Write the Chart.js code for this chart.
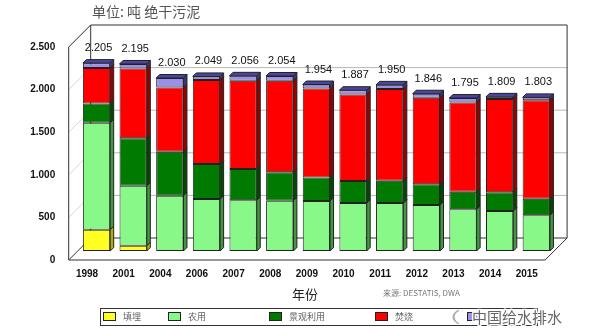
<!DOCTYPE html>
<html>
<head>
<meta charset="utf-8">
<script src="https://cdn.jsdelivr.net/npm/chart.js@4.4.1/dist/chart.umd.min.js"></script>
<style>
  html, body { margin: 0; padding: 0; background: #fff; }
</style>
</head>
<body>
<canvas id="sludge" width="601" height="336"></canvas>
<script>
const years = ["1998", "2001", "2004", "2006", "2007", "2008", "2009", "2010", "2011", "2012", "2013", "2014", "2015"];
const landfill = [250, 62, 0, 0, 0, 0, 0, 0, 0, 0, 0, 0, 0];
const agriculture = [1255, 704, 649, 610, 595, 590, 587, 563, 563, 540, 489, 469, 419];
const landscaping = [227, 556, 516, 410, 367, 333, 277, 258, 261, 242, 207, 220, 195];
const incineration = [415, 821, 754, 986, 1036, 1075, 1044, 1017, 1076, 1016, 1048, 1094, 1154];
const other = [58, 52, 111, 43, 58, 56, 46, 49, 50, 48, 51, 26, 35];
const yTicks = [0, 500, 1000, 1500, 2000, 2500];

const CJK = "'Noto Sans CJK SC', sans-serif";
Chart.defaults.font.family = "'Liberation Sans', Arial, sans-serif";

// offsets of the back wall and the front edge relative to the bar plane
const BACK = { dx: 12.5, dy: -13 };
const FRONT = { dx: -9.5, dy: 9 };
const DEPTH = 3.5;

const fmt = (v) => v.toLocaleString("de-DE");

const box3d = {
  id: "box3d",
  beforeDatasetsDraw(chart) {
    const { ctx, chartArea: a, scales: { y } } = chart;
    const y0 = y.getPixelForValue(0);
    const yTop = y.getPixelForValue(2500);
    ctx.save();
    ctx.lineWidth = 1;
    // grid on the back wall and the left wall
    yTicks.forEach((v) => {
      const py = y.getPixelForValue(v);
      if (v > 0 && v < 2500) {
        ctx.strokeStyle = "#b8b8b8";
        ctx.beginPath();
        ctx.moveTo(a.left + BACK.dx, py + BACK.dy);
        ctx.lineTo(a.right + BACK.dx, py + BACK.dy);
        ctx.stroke();
      }
      if (v > 0) {
        ctx.strokeStyle = "#d8d8d8";
        ctx.beginPath();
        ctx.moveTo(a.left + FRONT.dx, py + FRONT.dy);
        ctx.lineTo(a.left + BACK.dx, py + BACK.dy);
        ctx.stroke();
      }
    });
    ctx.strokeStyle = "#333";
    // back wall outline
    ctx.beginPath();
    ctx.moveTo(a.left + BACK.dx, y0 + BACK.dy);
    ctx.lineTo(a.left + BACK.dx, yTop + BACK.dy);
    ctx.lineTo(a.right + BACK.dx, yTop + BACK.dy);
    ctx.lineTo(a.right + BACK.dx, y0 + BACK.dy);
    ctx.stroke();
    // floor
    ctx.beginPath();
    ctx.moveTo(a.left + FRONT.dx, y0 + FRONT.dy);
    ctx.lineTo(a.right + FRONT.dx, y0 + FRONT.dy);
    ctx.lineTo(a.right + BACK.dx, y0 + BACK.dy);
    ctx.lineTo(a.left + BACK.dx, y0 + BACK.dy);
    ctx.closePath();
    ctx.stroke();
    // left wall
    ctx.beginPath();
    ctx.moveTo(a.left + FRONT.dx, y0 + FRONT.dy);
    ctx.lineTo(a.left + FRONT.dx, yTop + FRONT.dy);
    ctx.lineTo(a.left + BACK.dx, yTop + BACK.dy);
    ctx.stroke();
    ctx.restore();
  },
  afterDatasetsDraw(chart) {
    const { ctx } = chart;
    const sets = chart.data.datasets;
    ctx.save();
    ctx.lineWidth = 1;
    ctx.strokeStyle = "#222";
    sets.forEach((ds, i) => {
      chart.getDatasetMeta(i).data.forEach((bar, j) => {
        if (!ds.data[j]) return;
        const r = bar.x + bar.width / 2;
        const l = bar.x - bar.width / 2;
        ctx.fillStyle = ds.sideColor;
        ctx.beginPath();
        ctx.moveTo(r, bar.y);
        ctx.lineTo(r + DEPTH, bar.y - DEPTH);
        ctx.lineTo(r + DEPTH, bar.base - DEPTH);
        ctx.lineTo(r, bar.base);
        ctx.closePath();
        ctx.fill();
        ctx.stroke();
        if (i === sets.length - 1) {
          ctx.fillStyle = ds.topColor;
          ctx.beginPath();
          ctx.moveTo(l, bar.y);
          ctx.lineTo(l + DEPTH, bar.y - DEPTH);
          ctx.lineTo(r + DEPTH, bar.y - DEPTH);
          ctx.lineTo(r, bar.y);
          ctx.closePath();
          ctx.fill();
          ctx.stroke();
        }
      });
    });
    // totals above each column
    const topMeta = chart.getDatasetMeta(sets.length - 1);
    ctx.fillStyle = "#111";
    ctx.font = "11px 'Liberation Sans', Arial, sans-serif";
    ctx.textAlign = "center";
    ctx.textBaseline = "middle";
    years.forEach((yr, j) => {
      const total = sets.reduce((s, ds) => s + ds.data[j], 0);
      const bar = topMeta.data[j];
      ctx.fillText(fmt(total), bar.x + 2, bar.y - 15);
    });
    ctx.restore();
  },
  afterDraw(chart) {
    const { ctx } = chart;
    ctx.save();
    // unit caption
    ctx.fillStyle = "#555";
    ctx.font = "14px " + CJK;
    ctx.textBaseline = "middle";
    ctx.fillText("单位: 吨 绝干污泥", 92, 12);
    // axis title and source
    ctx.fillStyle = "#222";
    ctx.font = "13px " + CJK;
    ctx.textAlign = "center";
    ctx.fillText("年份", 305, 294);
    ctx.fillStyle = "#777";
    ctx.font = "8px " + CJK;
    ctx.textAlign = "left";
    ctx.fillText("来源: DESTATIS, DWA", 383, 293);
    // legend frame
    ctx.strokeStyle = "#333";
    ctx.lineWidth = 1;
    ctx.strokeRect(100.5, 308.5, 437, 17);
    const items = [[103, 0], [168, 1], [269, 2], [375, 3], [467, 4]];
    items.forEach(([x, i]) => {
      const ds = chart.data.datasets[i];
      ctx.fillStyle = ds.backgroundColor;
      ctx.fillRect(x, 312.5, 12, 8);
      ctx.strokeStyle = "#222";
      ctx.strokeRect(x + 0.5, 312.5, 12, 8);
      if (i < 4) {
        ctx.fillStyle = "#666";
        ctx.font = "9px " + CJK;
        ctx.fillText(ds.label, x + 20, 317);
      }
    });
    // account mark over the last legend entry
    ctx.strokeStyle = "#aaa";
    ctx.lineWidth = 1.2;
    ctx.beginPath();
    ctx.arc(458, 317, 5, 0.6 * Math.PI, 1.4 * Math.PI);
    ctx.stroke();
    ctx.beginPath();
    ctx.arc(461, 317, 7, 0.6 * Math.PI, 1.4 * Math.PI);
    ctx.stroke();
    ctx.font = "15px " + CJK;
    ctx.lineWidth = 3;
    ctx.strokeStyle = "rgba(255,255,255,0.9)";
    ctx.strokeText("中国给水排水", 472, 317);
    ctx.fillStyle = "#666";
    ctx.fillText("中国给水排水", 472, 317);
    ctx.restore();
  },
};

new Chart(document.getElementById("sludge"), {
  type: "bar",
  data: {
    labels: years,
    datasets: [
      { label: "填埋", data: landfill, backgroundColor: "#ffff22", sideColor: "#b0b000" },
      { label: "农用", data: agriculture, backgroundColor: "#88f888", sideColor: "#3f9a3f" },
      { label: "景观利用", data: landscaping, backgroundColor: "#007a00", sideColor: "#004a00" },
      { label: "焚烧", data: incineration, backgroundColor: "#ff0000", sideColor: "#9a0000" },
      { label: "其他", data: other, backgroundColor: "#9a90e8", sideColor: "#3a3580", topColor: "#4a45a0" },
    ].map((ds) => ({
      ...ds,
      borderColor: "#222",
      borderWidth: 1,
      borderSkipped: false,
      barPercentage: 0.745,
      categoryPercentage: 1,
    })),
  },
  options: {
    responsive: false,
    animation: false,
    layout: { padding: { top: 38, right: 46.4, bottom: 0, left: 0 } },
    plugins: { legend: { display: false }, tooltip: { enabled: false } },
    scales: {
      x: {
        stacked: true,
        grid: { display: false, drawTicks: false },
        border: { display: false },
        ticks: { labelOffset: -9.5, padding: 17.5, color: "#111", font: { size: 10, weight: "bold" }, maxRotation: 0 },
        afterFit: (s) => { s.height = 85; },
      },
      y: {
        stacked: true,
        min: 0,
        max: 2500,
        grid: { display: false, drawTicks: false },
        border: { display: false },
        ticks: { stepSize: 500, labelOffset: 9, padding: 23, color: "#111", font: { size: 10, weight: "bold" }, callback: (v) => fmt(v) },
        afterFit: (s) => { s.width = 78.2; },
      },
    },
  },
  plugins: [box3d],
});
</script>
</body>
</html>
